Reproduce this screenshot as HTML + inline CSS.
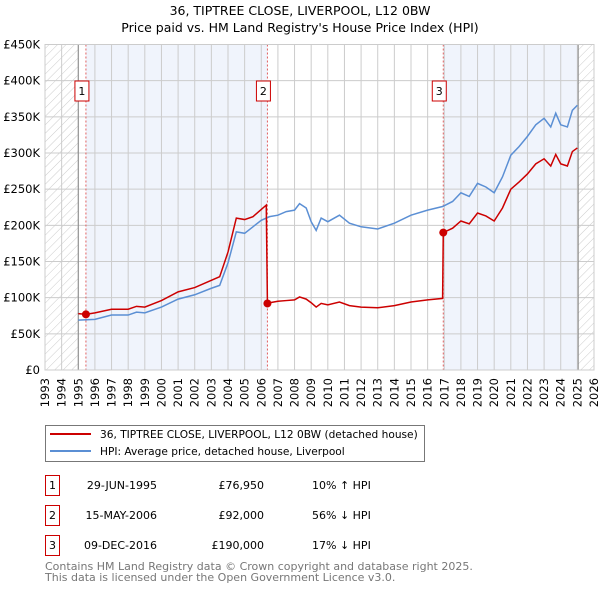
<!DOCTYPE html>
<html><head><meta charset="utf-8"><style>
body{margin:0;background:#fff;font-family:"Liberation Sans","DejaVu Sans",sans-serif;}
svg text{font-family:"DejaVu Sans","Liberation Sans",sans-serif;}
</style></head><body>
<svg id="chart" width="600" height="590" xmlns="http://www.w3.org/2000/svg">
<defs><pattern id="hatch" width="6" height="6" patternUnits="userSpaceOnUse" patternTransform="rotate(45)"><line x1="0" y1="0" x2="0" y2="6" stroke="#ccc" stroke-width="1"/></pattern></defs>
<text x="300" y="15" text-anchor="middle" font-size="12.5">36, TIPTREE CLOSE, LIVERPOOL, L12 0BW</text>
<text x="300" y="32" text-anchor="middle" font-size="12.5">Price paid vs. HM Land Registry's House Price Index (HPI)</text>
<g id="plot"></g>
<g>
<rect x="45.5" y="425.5" width="379" height="36" fill="#fff" stroke="#777"/>
<line x1="50" y1="434" x2="91" y2="434" stroke="#cc0000" stroke-width="2"/>
<text x="100" y="438" font-size="10.6">36, TIPTREE CLOSE, LIVERPOOL, L12 0BW (detached house)</text>
<line x1="50" y1="451" x2="91" y2="451" stroke="#5b8fd4" stroke-width="2"/>
<text x="100" y="455" font-size="10.6">HPI: Average price, detached house, Liverpool</text>
</g>
<g font-size="11">
<rect x="45.5" y="475.5" width="14" height="20" fill="#fff" stroke="#c00"/><text x="52.5" y="489" text-anchor="middle">1</text>
<text x="157" y="489" text-anchor="end">29-JUN-1995</text><text x="264" y="489" text-anchor="end">£76,950</text><text x="312" y="489">10% ↑ HPI</text>
<rect x="45.5" y="505.5" width="14" height="20" fill="#fff" stroke="#c00"/><text x="52.5" y="519" text-anchor="middle">2</text>
<text x="157" y="519" text-anchor="end">15-MAY-2006</text><text x="264" y="519" text-anchor="end">£92,000</text><text x="312" y="519">56% ↓ HPI</text>
<rect x="45.5" y="535.5" width="14" height="20" fill="#fff" stroke="#c00"/><text x="52.5" y="549" text-anchor="middle">3</text>
<text x="157" y="549" text-anchor="end">09-DEC-2016</text><text x="264" y="549" text-anchor="end">£190,000</text><text x="312" y="549">17% ↓ HPI</text>
</g>
<text x="45" y="570" font-size="11" fill="#777">Contains HM Land Registry data © Crown copyright and database right 2025.</text>
<text x="45" y="581" font-size="11" fill="#777">This data is licensed under the Open Government Licence v3.0.</text>
</svg>
<script>
const hpiDates=[1995.0,1996,1997,1998,1998.5,1999,2000,2001,2002,2003,2003.5,2004,2004.5,2005,2005.5,2006,2006.5,2007,2007.5,2008,2008.3,2008.7,2009,2009.3,2009.6,2010,2010.7,2011.3,2012,2013,2014,2015,2016,2016.9,2017.5,2018,2018.5,2019,2019.5,2020,2020.5,2021,2021.5,2022,2022.5,2023,2023.4,2023.7,2024,2024.4,2024.7,2025];
const hpiValues=[69,70,76,76,80,79,87,98,104,113,117,148,191,189,198,207,212,214,219,221,230,224,205,193,210,205,214,203,198,195,203,214,221,226,233,245,240,258,253,245,267,297,309,323,339,348,336,355,339,336,359,366];
const priceDates=[1995.0,1995.46,1996,1997,1998,1998.5,1999,2000,2001,2002,2003,2003.5,2004,2004.5,2005,2005.5,2006,2006.3,2006.37,2006.5,2007,2007.5,2008,2008.3,2008.7,2009,2009.3,2009.6,2010,2010.7,2011.3,2012,2013,2014,2015,2016,2016.9,2016.94,2017.5,2018,2018.5,2019,2019.5,2020,2020.5,2021,2021.5,2022,2022.5,2023,2023.4,2023.7,2024,2024.4,2024.7,2025];
const priceValues=[78,76.95,79,84,84,88,87,96,108,114,124,129,163,210,208,212,222,228,92,93,95,96,97,101,98,93,87,92,90,94,89,87,86,89,94,97,99,190,196,206,202,217,213,206,224,250,260,271,285,292,282,298,285,282,302,307];
const saleDates=[1995.46,2006.37,2016.94];
const saleValues=[76.95,92,190];
const saleLabels=["1","2","3"];
const yTicks=[0,50,100,150,200,250,300,350,400,450];
const yTickLabels=["£0","£50K","£100K","£150K","£200K","£250K","£300K","£350K","£400K","£450K"];
const xYears=[];for(let y=1993;y<=2026;y++)xYears.push(y);

const X0=45,X1=594,Y0=370,Y1=44.5;
const xs=d=>X0+(d-1993)/(2026-1993)*(X1-X0);
const ys=v=>Y0-v/450*(Y0-Y1);
const NS="http://www.w3.org/2000/svg";
const g=document.getElementById('plot');
function mk(t,a,p){const e=document.createElementNS(NS,t);for(const k in a)e.setAttribute(k,a[k]);(p||g).appendChild(e);return e;}

let e;
e=mk('rect',{x:xs(1995.46),y:Y1,width:xs(2006.37)-xs(1995.46),height:Y0-Y1,fill:'#f0f4fc'});


e=mk('rect',{x:xs(2016.94),y:Y1,width:xs(2025)-xs(2016.94),height:Y0-Y1,fill:'#f0f4fc'});


e=mk('rect',{x:X0,y:Y1,width:xs(1995)-X0,height:Y0-Y1,fill:'url(#hatch)'});


e=mk('rect',{x:xs(2025.05),y:Y1,width:X1-xs(2025.05),height:Y0-Y1,fill:'url(#hatch)'});



xYears.forEach(y=>{
  e=mk('line',{x1:xs(y),x2:xs(y),y1:Y1,y2:Y0,stroke:'#ccc','stroke-width':1});
  
  
  e=mk('text',{transform:`translate(${xs(y)+4},${Y0+8}) rotate(-90)`,'text-anchor':'end','font-size':11.5});
  e.textContent=y;
  
  
});
yTicks.forEach((v,i)=>{
  e=mk('line',{x1:X0,x2:X1,y1:ys(v),y2:ys(v),stroke:'#ccc','stroke-width':1});
  
  
  e=mk('text',{x:40,y:ys(v)+4,'text-anchor':'end','font-size':11.5});
  e.textContent=yTickLabels[i];
  
  
});
e=mk('line',{x1:xs(1995),x2:xs(1995),y1:Y1,y2:Y0,stroke:'#888','stroke-width':1});


e=mk('line',{x1:xs(2025.05),x2:xs(2025.05),y1:Y1,y2:Y0,stroke:'#888','stroke-width':1});



saleDates.forEach((d,i)=>{
  e=mk('line',{x1:xs(d),x2:xs(d),y1:Y1,y2:Y0,stroke:'#e06060','stroke-width':1,'stroke-dasharray':'2,2'});
  
  
});

e=mk('polyline',{points:hpiDates.map((d,i)=>xs(d)+','+ys(hpiValues[i])).join(' '),fill:'none',stroke:'#5b8fd4','stroke-width':1.5});


e=mk('polyline',{points:priceDates.map((d,i)=>xs(d)+','+ys(priceValues[i])).join(' '),fill:'none',stroke:'#cc0000','stroke-width':1.5});



saleDates.forEach((d,i)=>{
  e=mk('circle',{cx:xs(d),cy:ys(saleValues[i]),r:4,fill:'#cc0000'});
  
  
  const bx=xs(d)-11;
  e=mk('rect',{x:bx,y:81,width:14,height:20,fill:'#fff',stroke:'#c00'});
  
  
  e=mk('text',{x:bx+7,y:95,'text-anchor':'middle','font-size':11});
  e.textContent=saleLabels[i];
  
  
});
e=mk('rect',{x:X0,y:Y1,width:X1-X0,height:Y0-Y1,fill:'none',stroke:'#ccc'});


</script>
</body></html>
